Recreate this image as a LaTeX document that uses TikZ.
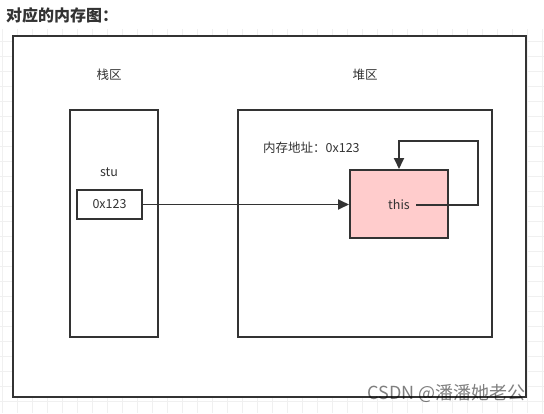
\documentclass[tikz,border=0pt]{standalone}
\usepackage{fontspec}
\setmainfont{Noto Sans CJK SC}
\usetikzlibrary{arrows.meta}
\definecolor{ln}{HTML}{333333}
\definecolor{pinkf}{HTML}{FFCCCC}
\definecolor{gridc}{HTML}{F0F0F0}
\tikzset{
  box/.style={draw=ln, line width=2pt, fill=white},
  lbl/.style={font=\fontsize{12.5}{14}\selectfont, text=ln, inner sep=0pt},
  conn/.style={draw=ln, line width=1.8pt, -{Triangle[length=11pt,width=10pt]}},
}
\begin{document}
\begin{tikzpicture}[x=1pt,y=-1pt]
\useasboundingbox (0,0) rectangle (544,413);
\fill[white] (0,0) rectangle (544,413);
% faint grid
\begin{scope}
\clip (0,29) rectangle (544,413);
\foreach \i in {0,...,36} \draw[gridc, line width=0.6pt] (2+15*\i,29) -- (2+15*\i,413);
\foreach \j in {0,...,26} \draw[gridc, line width=0.6pt] (0,11+15*\j) -- (544,11+15*\j);
\end{scope}
% title
\node[anchor=west, inner sep=0pt, font=\fontsize{16}{18}\selectfont\bfseries, text=ln] (title) at (6,15) {对应的内存图：};
% outer frame
\draw[box, line width=2.2pt] (13,36) rectangle (526,397);
\coordinate (outer) at (13,36);
% stack
\node[lbl] (stacklbl) at (109,75) {栈区};
\draw[box] (70,110) rectangle (158,337);
\coordinate (stack) at (70,110);
\node[lbl] (stu) at (109,172) {stu};
\node[box, minimum width=65pt, minimum height=29pt, inner sep=0pt, font=\fontsize{12.5}{14}\selectfont, text=ln] (ptr) at (109.5,204.5) {0x123};
% heap
\node[lbl] (heaplbl) at (365,75) {堆区};
\draw[box] (238,110) rectangle (492,337);
\coordinate (heap) at (238,110);
\node[lbl, anchor=west] (addr) at (263,148) {内存地址：0x123};
\node[draw=ln, line width=2pt, fill=pinkf, minimum width=98pt, minimum height=68pt, inner sep=0pt] (obj) at (399,204) {};
\node[lbl] (this) at (399,205) {this};
\coordinate (selfA) at (416,205);
\coordinate (selfB) at (478,205);
\coordinate (selfC) at (478,141);
\coordinate (selfD) at (399,141);
% connectors
\draw[conn] (ptr.east) -- (obj.west |- ptr.east);
\draw[conn] (selfA) -- (selfB) -- (selfC) -- (selfD) -- (obj.north);
% watermark
\node[anchor=east, inner sep=0pt, font=\fontsize{18}{20}\selectfont, text=black, opacity=0.5] (wm) at (526,393) {CSDN @潘潘她老公};
\end{tikzpicture}
\end{document}
